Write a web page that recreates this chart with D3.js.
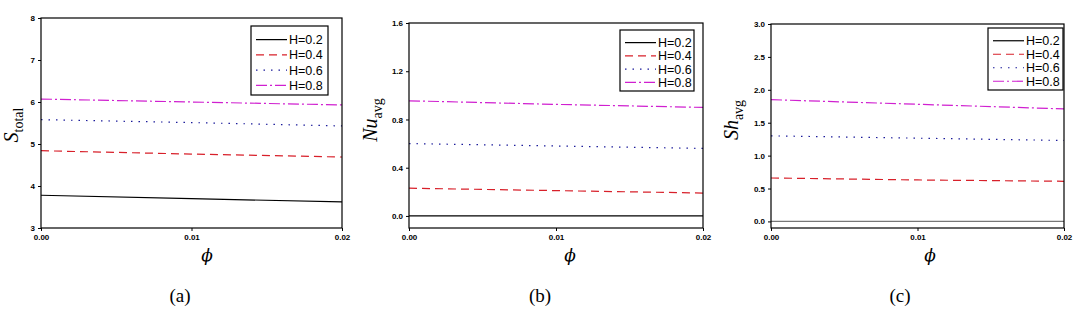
<!DOCTYPE html>
<html>
<head>
<meta charset="utf-8">
<script src="https://cdn.jsdelivr.net/npm/d3@7"></script>
<style>
  body { margin: 0; background: #fff; }
  svg { display: block; }
</style>
</head>
<body>
<svg id="chart" width="1082" height="309"></svg>
<script>
const phi = [0, 0.01, 0.02];
const seriesNames = ["H=0.2", "H=0.4", "H=0.6", "H=0.8"];
const xTicks = [0, 0.01, 0.02];

// panel (a) S_total
const sTotal = [
    [3.78, 3.70, 3.62],
    [4.84, 4.76, 4.69],
    [5.58, 5.51, 5.43],
    [6.07, 6.00, 5.93]
];
// panel (b) Nu_avg
const nuAvg = [
    [0.0, 0.0, 0.0],
    [0.23, 0.21, 0.19],
    [0.60, 0.58, 0.56],
    [0.955, 0.925, 0.90]
];
// panel (c) Sh_avg
const shAvg = [
    [0.0, 0.0, 0.0],
    [0.66, 0.63, 0.61],
    [1.30, 1.265, 1.23],
    [1.85, 1.78, 1.71]
];
const yTicksA = [3, 4, 5, 6, 7, 8];
const yTicksB = [0.0, 0.4, 0.8, 1.2, 1.6];
const yTicksC = [0.0, 0.5, 1.0, 1.5, 2.0, 2.5, 3.0];

const colors = ["#000000", "#d8202a", "#1a1a9a", "#d020d0"];
const dashes = [null, "8,5", "1.5,6", "11,3,2,3"];

const svg = d3.select("#chart");

const panels = [
    { data: sTotal, yDomain: [3, 8], yTicks: yTicksA, fmt: d3.format("d"),
      left: 41, right: 342, top: 18, bottom: 228,
      ylab: ["S", "total"], ylabX: 18, ylabY: 125,
      legend: { x: 251, y: 26, w: 77, h: 69 }, phiX: 207, capX: 180, cap: "(a)", zeroColor: "#000" },
    { data: nuAvg, yDomain: [-0.1, 1.6], yTicks: yTicksB, fmt: d3.format(".1f"),
      left: 409, right: 703, top: 23, bottom: 228,
      ylab: ["Nu", "avg"], ylabX: 377, ylabY: 120,
      legend: { x: 620, y: 30, w: 74, h: 61 }, phiX: 570, capX: 540, cap: "(b)", zeroColor: "#000" },
    { data: shAvg, yDomain: [-0.1, 3.0], yTicks: yTicksC, fmt: d3.format(".1f"),
      left: 771, right: 1064, top: 24, bottom: 228,
      ylab: ["Sh", "avg"], ylabX: 738, ylabY: 120,
      legend: { x: 988, y: 28, w: 75, h: 62 }, phiX: 930, capX: 900, cap: "(c)", zeroColor: "#777" }
];

panels.forEach(p => {
    const x = d3.scaleLinear().domain([0, 0.02]).range([p.left, p.right]);
    const y = d3.scaleLinear().domain(p.yDomain).range([p.bottom, p.top]);
    const g = svg.append("g");

    // series
    const line = d3.line().x((d, i) => x(phi[i])).y(d => y(d));
    p.data.forEach((vals, k) => {
        g.append("path")
            .attr("d", line(vals))
            .attr("fill", "none")
            .attr("stroke", k === 0 ? p.zeroColor : colors[k])
            .attr("stroke-width", 1.2)
            .attr("stroke-dasharray", dashes[k]);
    });

    // frame
    g.append("rect")
        .attr("x", p.left).attr("y", p.top)
        .attr("width", p.right - p.left).attr("height", p.bottom - p.top)
        .attr("fill", "none").attr("stroke", "#000").attr("stroke-width", 1.2);

    const axX = g.append("g")
        .attr("transform", `translate(0,${p.bottom})`)
        .call(d3.axisBottom(x).tickValues(xTicks).tickFormat(d3.format(".2f")).tickSize(3).tickPadding(3));
    const axY = g.append("g")
        .attr("transform", `translate(${p.left},0)`)
        .call(d3.axisLeft(y).tickValues(p.yTicks).tickFormat(p.fmt).tickSize(3).tickPadding(3));
    [axX, axY].forEach(a => {
        a.select(".domain").remove();
        a.selectAll("line").attr("stroke", "#000");
        a.selectAll("text")
            .style("font-family", "'Liberation Sans', Arial, sans-serif")
            .style("font-size", "8px")
            .style("font-weight", "bold")
            .attr("fill", "#000");
    });

    // y label
    const yl = g.append("text")
        .attr("transform", `translate(${p.ylabX},${p.ylabY}) rotate(-90)`)
        .attr("text-anchor", "middle")
        .style("font-family", "'Liberation Serif', 'Times New Roman', serif")
        .style("font-size", "20px");
    yl.append("tspan").style("font-style", "italic").text(p.ylab[0]);
    yl.append("tspan").attr("dy", 5).style("font-size", "14px").text(p.ylab[1]);

    // x label
    g.append("text")
        .attr("x", p.phiX).attr("y", 261)
        .attr("text-anchor", "middle")
        .style("font-family", "'DejaVu Serif', serif")
        .style("font-style", "italic")
        .style("font-size", "17px")
        .text("\u03D5");

    // caption
    g.append("text")
        .attr("x", p.capX).attr("y", 302)
        .attr("text-anchor", "middle")
        .style("font-family", "'Liberation Serif', 'Times New Roman', serif")
        .style("font-size", "19px")
        .text(p.cap);

    // legend
    const L = p.legend;
    const lg = g.append("g");
    lg.append("rect")
        .attr("x", L.x).attr("y", L.y).attr("width", L.w).attr("height", L.h)
        .attr("fill", "#fff").attr("stroke", "#000").attr("stroke-width", 1.2);
    const step = (L.h - 8) / 4;
    seriesNames.forEach((name, k) => {
        const yy = L.y + 6 + step * (k + 0.5);
        lg.append("line")
            .attr("x1", L.x + 5).attr("x2", L.x + 36)
            .attr("y1", yy).attr("y2", yy)
            .attr("stroke", colors[k]).attr("stroke-width", 1.2)
            .attr("stroke-dasharray", dashes[k]);
        lg.append("text")
            .attr("x", L.x + 38).attr("y", yy + 4.5)
            .style("font-family", "'Liberation Sans', Arial, sans-serif")
            .style("font-size", "12.5px")
            .text(name);
    });
});
</script>
</body>
</html>
